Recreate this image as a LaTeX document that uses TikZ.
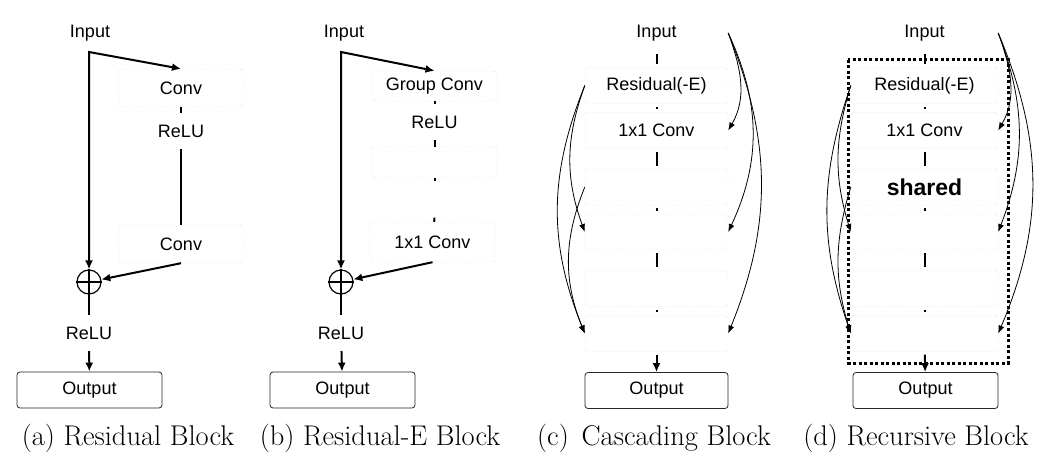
\documentclass[tikz,border=0pt]{standalone}
\usepackage{fontspec}
\newfontfamily\labelfont{Liberation Sans}
\usetikzlibrary{arrows.meta}

\tikzset{
  lbl/.style={font=\labelfont\fontsize{18}{20}\selectfont, inner sep=0pt},
  layer/.style={lbl, draw=gray!45, densely dotted, rounded corners=3pt, minimum height=36pt},
  outbox/.style={lbl, draw=black!85, line width=0.8pt, rounded corners=3pt, minimum width=145pt, minimum height=36pt},
  link/.style={line width=2pt},
  flow/.style={line width=2pt, -{Latex[length=9pt,width=8pt]}},
  fork/.style={line width=2pt, {Latex[length=9pt,width=8pt]}-{Latex[length=9pt,width=8pt]}},
  skip/.style={line width=0.8pt, -{Latex[length=8pt,width=6pt]}},
  addop/.style={circle, draw, line width=1.2pt, minimum size=24pt, inner sep=0pt},
  caption/.style={font=\fontsize{28.5}{30}\selectfont, inner sep=0pt}
}

\begin{document}
\begin{tikzpicture}[x=1pt, y=1pt, >=Latex]
  \useasboundingbox (0,0) rectangle (1050,461);

  % (a) residual block
  \node[lbl] (ina) at (90,428) {Input};
  \coordinate (ja) at (89,409);
  \node[layer, minimum width=124pt, minimum height=38pt] (conv1a) at (181,373) {Conv};
  \node[lbl, minimum height=36pt] (relu1a) at (181,330) {ReLU};
  \node[layer, minimum width=124pt, minimum height=38pt] (conv2a) at (181,217) {Conv};
  \node[addop] (plusa) at (89,179) {};
  \node[lbl, minimum height=36pt] (relu2a) at (89,128) {ReLU};
  \node[outbox] (outa) at (89.5,71) {Output};
  \node[caption] (capa) at (128,23) {(a) Residual Block};
  \draw[fork] (plusa.north) -- (ja) -- (conv1a.north);
  \draw[link] (conv1a) -- (relu1a);
  \draw[link] (relu1a) -- (conv2a);
  \draw[flow] (conv2a.south) -- (plusa);
  \draw[line width=1.2pt] (plusa.north) -- (plusa.south) (plusa.west) -- (plusa.east);
  \draw[link] (plusa) -- (relu2a);
  \draw[flow] (relu2a) -- (outa);

  % (b) residual-e block
  \node[lbl] (inb) at (344,428) {Input};
  \coordinate (jb) at (341,409);
  \node[layer, minimum width=125pt, minimum height=30pt] (gconvb) at (434.5,375) {Group Conv};
  \node[lbl, minimum height=36pt] (relu1b) at (434.5,339) {ReLU};
  \node[layer, minimum width=125pt, minimum height=31pt] (gconv2b) at (434.5,298.5) {};
  \node[lbl, minimum height=36pt] (relu2b) at (434.5,261.5) {};
  \node[layer, minimum width=125pt, minimum height=40pt] (conv1x1b) at (432.5,219) {1x1 Conv};
  \node[addop] (plusb) at (341,179) {};
  \node[lbl, minimum height=36pt] (relu3b) at (341,128) {ReLU};
  \node[outbox] (outb) at (342.5,71) {Output};
  \node[caption] (capb) at (380,23) {(b) Residual-E Block};
  \draw[fork] (plusb.north) -- (jb) -- (gconvb.north);
  \draw[link] (gconvb) -- (relu1b);
  \draw[link] (relu1b) -- (gconv2b);
  \draw[link] (gconv2b) -- (relu2b.north);
  \draw[link] (relu2b.south) -- (conv1x1b);
  \draw[flow] (conv1x1b.south) -- (plusb);
  \draw[line width=1.2pt] (plusb.north) -- (plusb.south) (plusb.west) -- (plusb.east);
  \draw[link] (plusb) -- (relu3b);
  \draw[flow] (relu3b) -- (outb);

  % (c) cascading block
  \node[lbl, minimum width=143pt, minimum height=36pt] (inc) at (656.5,428) {Input};
  \foreach \k/\rt/\ct in {0/{Residual(-E)}/{1x1 Conv}, 1/{}/{}, 2/{}/{}} {
    \node[layer, minimum width=143pt] (resc\k) at (656.5,375.5-101.5*\k) {\rt};
    \node[layer, minimum width=143pt] (convc\k) at (656.5,330.5-101.5*\k) {\ct};
    \draw[link, shorten <=3pt, shorten >=3pt] (resc\k) -- (convc\k);
  }
  \node[outbox, minimum width=143pt] (outc) at (656.5,70.5) {Output};
  \node[caption] (capc) at (654,23) {(c)\hspace{0.45em}Cascading Block};
  \draw[link, shorten <=3pt, shorten >=3pt] (inc) -- (resc0);
  \draw[link, shorten <=3pt, shorten >=3pt] (convc0) -- (resc1);
  \draw[link, shorten <=3pt, shorten >=3pt] (convc1) -- (resc2);
  \draw[flow, shorten <=3pt] (convc2) -- (outc);
  \draw[skip] (inc.east) to[out=-70, in=60] (convc0.east);
  \draw[skip] (inc.east) to[out=-65, in=65] (convc1.east);
  \draw[skip] (inc.east) to[out=-68, in=68] (convc2.east);
  \draw[skip] (resc0.west) to[out=250, in=110] (convc1.west);
  \draw[skip] (resc0.west) to[out=248, in=112] (convc2.west);
  \draw[skip] (resc1.west) to[out=248, in=112] (convc2.west);

  % (d) recursive block
  \node[lbl, minimum width=147pt, minimum height=36pt] (ind) at (924.5,428) {Input};
  \foreach \k/\rt/\ct in {0/{Residual(-E)}/{1x1 Conv}, 1/{\bfseries\fontsize{23}{26}\selectfont shared}/{}, 2/{}/{}} {
    \node[layer, minimum width=147pt] (resd\k) at (924.5,375.5-101.5*\k) {\rt};
    \node[layer, minimum width=147pt] (convd\k) at (924.5,330.5-101.5*\k) {\ct};
    \draw[link, shorten <=3pt, shorten >=3pt] (resd\k) -- (convd\k);
  }
  \draw[line width=3pt, dash pattern=on 3pt off 2.5pt] (848,401) rectangle (1008,98);
  \node[outbox] (outd) at (925.5,70.5) {Output};
  \node[caption] (capd) at (916,23) {(d) Recursive Block};
  \draw[link, shorten <=3pt, shorten >=3pt] (ind) -- (resd0);
  \draw[link, shorten <=3pt, shorten >=3pt] (convd0) -- (resd1);
  \draw[link, shorten <=3pt, shorten >=3pt] (convd1) -- (resd2);
  \draw[flow, shorten <=3pt] (convd2) -- (outd);
  \draw[skip] (ind.east) to[out=-70, in=60] (convd0.east);
  \draw[skip] (ind.east) to[out=-69, in=69] (convd1.east);
  \draw[skip] (ind.east) to[out=-67, in=67] (convd2.east);
  \draw[skip] (resd0.west) to[out=253, in=107] (convd1.west);
  \draw[skip] (resd0.west) to[out=251, in=109] (convd2.west);
  \draw[skip] (resd1.west) to[out=253, in=107] (convd2.west);
\end{tikzpicture}
\end{document}
